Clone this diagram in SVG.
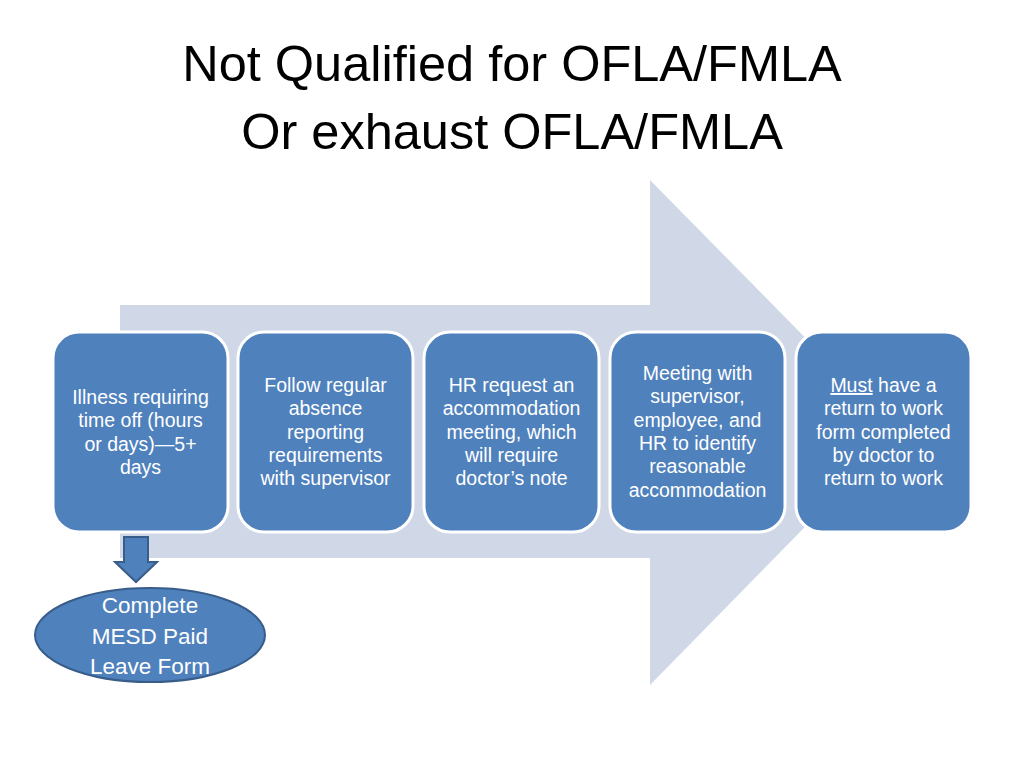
<svg xmlns="http://www.w3.org/2000/svg" width="1024" height="768" viewBox="0 0 1024 768">
<style>
.title{font-family:"Liberation Sans",Arial,sans-serif;font-size:50.5px;fill:#000;text-anchor:middle}
.box{fill:#4F81BD;stroke:#fff;stroke-width:3}
.t{font-family:"Liberation Sans",Arial,sans-serif;font-size:19.5px;fill:#fff;text-anchor:middle}
.et{font-family:"Liberation Sans",Arial,sans-serif;font-size:22.5px;fill:#fff;text-anchor:middle}
</style>
<rect width="1024" height="768" fill="#fff"/>
<g id="title">
<text class="title" x="512" y="81">Not Qualified for OFLA/FMLA</text>
<text class="title" x="512" y="149">Or exhaust OFLA/FMLA</text>
</g>
<g id="background-arrow">
<polygon points="120,305 650,305 650,180 898,432 650,685 650,558 120,558" fill="#D0D8E8"/>
</g>
<g id="node1">
<rect class="box" x="53" y="332" width="175" height="200" rx="26"/>
<text class="t" x="140.5" y="404">Illness requiring</text>
<text class="t" x="140.5" y="427">time off (hours</text>
<text class="t" x="140.5" y="451">or days)—5+</text>
<text class="t" x="140.5" y="474">days</text>
</g>
<g id="node2">
<rect class="box" x="238" y="332" width="175" height="200" rx="26"/>
<text class="t" x="325.5" y="392">Follow regular</text>
<text class="t" x="325.5" y="415">absence</text>
<text class="t" x="325.5" y="439">reporting</text>
<text class="t" x="325.5" y="462">requirements</text>
<text class="t" x="325.5" y="485">with supervisor</text>
</g>
<g id="node3">
<rect class="box" x="424" y="332" width="175" height="200" rx="26"/>
<text class="t" x="511.5" y="392">HR request an</text>
<text class="t" x="511.5" y="415">accommodation</text>
<text class="t" x="511.5" y="439">meeting, which</text>
<text class="t" x="511.5" y="462">will require</text>
<text class="t" x="511.5" y="485">doctor’s note</text>
</g>
<g id="node4">
<rect class="box" x="610" y="332" width="175" height="200" rx="26"/>
<text class="t" x="697.5" y="380">Meeting with</text>
<text class="t" x="697.5" y="403">supervisor,</text>
<text class="t" x="697.5" y="427">employee, and</text>
<text class="t" x="697.5" y="450">HR to identify</text>
<text class="t" x="697.5" y="473">reasonable</text>
<text class="t" x="697.5" y="497">accommodation</text>
</g>
<g id="node5">
<rect class="box" x="796" y="332" width="175" height="200" rx="26"/>
<text class="t" x="883.5" y="392"><tspan text-decoration="underline">Must</tspan> have a</text>
<text class="t" x="883.5" y="415">return to work</text>
<text class="t" x="883.5" y="439">form completed</text>
<text class="t" x="883.5" y="462">by doctor to</text>
<text class="t" x="883.5" y="485">return to work</text>
</g>
<g id="connectors">
<polygon points="124,537 148,537 148,562 157,562 136,582 115,562 124,562" fill="#4F81BD" stroke="#385D8A" stroke-width="2" stroke-linejoin="miter"/>
</g>
<g id="node6">
<ellipse cx="150" cy="635" rx="115" ry="47" fill="#4F81BD" stroke="#385D8A" stroke-width="2"/>
<text class="et" x="150" y="613">Complete</text>
<text class="et" x="150" y="644">MESD Paid</text>
<text class="et" x="150" y="674">Leave Form</text>
</g>
</svg>
